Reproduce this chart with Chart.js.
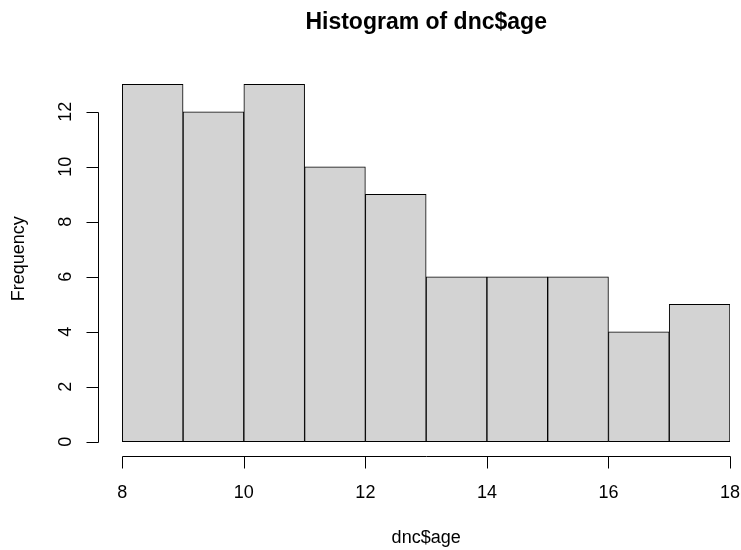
<!DOCTYPE html>
<html>
<head>
<meta charset="utf-8">
<script src="https://cdn.jsdelivr.net/npm/chart.js@4.4.1/dist/chart.umd.min.js"></script>
<style>
  html, body { margin: 0; padding: 0; background: #fff; }
  #wrap { width: 741px; height: 550px; }
</style>
</head>
<body>
<div id="wrap"><canvas id="hist" width="741" height="550"></canvas></div>
<script>
// histogram of dnc$age
var breaks = [8, 9, 10, 11, 12, 13, 14, 15, 16, 17, 18];
var counts = [13, 12, 13, 10, 9, 6, 6, 6, 4, 5];
var xTicks = [8, 10, 12, 14, 16, 18];
var yTicks = [0, 2, 4, 6, 8, 10, 12];
var mainTitle = 'Histogram of dnc$age';
var xLabel = 'dnc$age';
var yLabel = 'Frequency';

var FONT = '"Liberation Sans", Arial, Helvetica, sans-serif';

var points = [];
for (var i = 0; i < counts.length; i++) {
  points.push({ x: (breaks[i] + breaks[i + 1]) / 2, y: counts[i] });
}

// R style axes, title and labels
var rAxes = {
  id: 'rAxes',
  afterDraw: function(chart) {
    var ctx = chart.ctx;
    var xs = chart.scales.x, ys = chart.scales.y;
    var area = chart.chartArea;
    var left = Math.round(area.left) + 0.5;
    var bottom = Math.round(area.bottom) + 0.5;

    ctx.save();
    ctx.strokeStyle = '#000';
    ctx.lineWidth = 1;
    ctx.fillStyle = '#000';

    // y axis
    var y0 = ys.getPixelForValue(yTicks[0]);
    var y1 = ys.getPixelForValue(yTicks[yTicks.length - 1]);
    ctx.beginPath();
    ctx.moveTo(left, Math.round(y0) + 0.5);
    ctx.lineTo(left, Math.round(y1) + 0.5);
    yTicks.forEach(function(v) {
      var py = Math.round(ys.getPixelForValue(v)) + 0.5;
      ctx.moveTo(left, py);
      ctx.lineTo(left - 12, py);
    });
    ctx.stroke();

    ctx.font = '18px ' + FONT;
    ctx.textAlign = 'center';
    ctx.textBaseline = 'middle';
    yTicks.forEach(function(v) {
      var py = ys.getPixelForValue(v);
      ctx.save();
      ctx.translate(66, py);
      ctx.rotate(-Math.PI / 2);
      ctx.fillText(String(v), 0, 0);
      ctx.restore();
    });

    // x axis
    var x0 = xs.getPixelForValue(xTicks[0]);
    var x1 = xs.getPixelForValue(xTicks[xTicks.length - 1]);
    ctx.beginPath();
    ctx.moveTo(Math.round(x0) + 0.5, bottom);
    ctx.lineTo(Math.round(x1) + 0.5, bottom);
    xTicks.forEach(function(v) {
      var px = Math.round(xs.getPixelForValue(v)) + 0.5;
      ctx.moveTo(px, bottom);
      ctx.lineTo(px, bottom + 12);
    });
    ctx.stroke();

    xTicks.forEach(function(v) {
      ctx.fillText(String(v), xs.getPixelForValue(v), 493);
    });

    // axis titles
    var midX = (x0 + x1) / 2;
    ctx.fillText(xLabel, midX, 538);
    ctx.save();
    ctx.translate(19, (y0 + y1) / 2 - 18);
    ctx.rotate(-Math.PI / 2);
    ctx.fillText(yLabel, 0, 0);
    ctx.restore();

    // main title
    ctx.font = 'bold 23px ' + FONT;
    ctx.fillText(mainTitle, midX, 23);
    ctx.restore();
  }
};

new Chart(document.getElementById('hist'), {
  type: 'bar',
  data: {
    datasets: [{
      data: points,
      backgroundColor: '#d3d3d3',
      borderColor: '#000',
      borderWidth: 1,
      borderSkipped: false,
      barPercentage: 1,
      categoryPercentage: 1
    }]
  },
  options: {
    responsive: false,
    animation: false,
    devicePixelRatio: 1,
    layout: { padding: { left: 98, right: 11, top: 70, bottom: 94 } },
    plugins: {
      legend: { display: false },
      tooltip: { enabled: false },
      title: { display: false }
    },
    scales: {
      x: {
        type: 'linear',
        display: false,
        offset: false,
        min: 7.6,
        max: 18,
        afterBuildTicks: function(scale) {
          scale.ticks = breaks.map(function(v) { return { value: v }; });
        }
      },
      y: {
        display: false,
        min: -0.52,
        max: 13.52
      }
    }
  },
  plugins: [rAxes]
});
</script>
</body>
</html>
